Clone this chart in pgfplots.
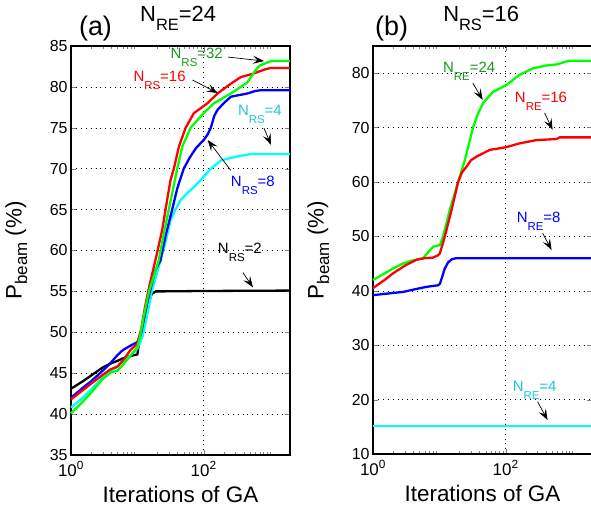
\documentclass[border=0pt]{standalone}
\usepackage{fontspec}
\setmainfont{Liberation Sans}
\usepackage{pgfplots}
\pgfplotsset{compat=1.18}
\usetikzlibrary{arrows.meta}

\definecolor{lgreen}{rgb}{0,1,0}
\definecolor{lcyan}{rgb}{0,1,1}
\definecolor{tgreen}{RGB}{25,150,25}
\definecolor{tcyan}{RGB}{30,200,210}

% subscript: size, drop, text
\newcommand{\sub}[3]{\raisebox{-#2}{\fontsize{#1}{#1}\selectfont #3}}

\tikzset{
  ann/.style={font=\fontsize{15}{17}\selectfont, anchor=base west, inner sep=0pt},
  arr/.style={black, line width=0.7bp, -{Stealth[length=11bp, width=8bp, inset=4.5bp]}},
  crv/.style={line width=2.3bp},
}

\begin{document}
\begin{tikzpicture}
\useasboundingbox (0,0) rectangle (591bp,515bp);

% (a) N_RE = 24
\begin{axis}[xmode=log, xmin=1, xmax=2000,
    scale only axis, width=219bp, height=409bp, clip=false,
    at={(71bp,60bp)}, anchor=south west,
    ymin=35, ymax=85, ytick={35,40,...,85},
    xtick={1,100}, xticklabels={10\textsuperscript{0},10\textsuperscript{2}},
    minor xtick={2,3,4,5,6,7,8,9,20,30,40,50,60,70,80,90,200,300,400,500,600,700,800,900,1000,2000},
    xmajorgrids, ymajorgrids,
    major grid style={black, line width=0.5bp, dash pattern=on 0.7bp off 4.2bp},
    axis line style={line width=1.1bp},
    major tick length=5bp, minor tick length=3bp,
    yticklabel style={font=\fontsize{16}{18}\selectfont},
    xticklabel style={font=\fontsize{17}{19}\selectfont, yshift=-3bp},
    xlabel={Iterations of GA},
    xlabel style={font=\fontsize{22.5}{25}\selectfont, at={(axis description cs:0.5,-0.117)}, anchor=base},
    ylabel={P\sub{17}{5.5bp}{beam} (\%)},
    ylabel style={font=\fontsize{22.5}{25}\selectfont, at={(axis description cs:-0.25,0.5)}, anchor=center},
    /pgf/number format/assume math mode=true]
\addplot[crv, black] coordinates {
(1,43.1) (1.5,44.0) (2,44.7) (3,45.7) (4,46.2) (5,46.5) (6,46.8) (8,47.1) (10,47.3)
(10.6,48.6) (12,50.5) (14,53) (16.5,54.7) (19,55) (22,55) (100,55.05) (2000,55.1)};
\addplot[crv, lcyan] coordinates {
(1,40.8) (1.5,42.0) (2,43.0) (3,44.5) (4,45.3) (5,45.8) (6,46.5) (8,47.2) (10,48)
(12,49.5) (14,52) (16.5,55) (21,58) (26.6,61) (31.6,63.7) (37.6,65) (45,66.2) (56.4,67)
(70,67.7) (90,68.6) (128,70) (181,71) (250,71.3) (323,71.5) (515,71.8) (2000,71.8)};
\addplot[crv, blue] coordinates {
(1,42) (1.5,43.2) (2,44.0) (3,45.3) (4,46.3) (5,47.2) (6,47.8) (8,48.4) (10,48.8)
(11.5,50) (13,52.5) (15.5,55) (18.5,57.5) (22.3,58.8) (27,62) (33.5,65) (40,67.6)
(50,70) (62,71.4) (78,72.6) (100,73.5) (115,74.2) (128,75) (145,76.5) (162,77.2)
(200,78) (257,78.8) (458,79.2) (600,79.5) (730,79.6) (2000,79.6)};
\addplot[crv, red] coordinates {
(1,41.8) (1.5,42.9) (2,43.7) (3,44.8) (4,45.5) (5,45.8) (6,46.5) (8,47.9) (10,48.6)
(11.5,50.5) (13,53) (15,55.5) (18.7,58.8) (23.7,62.5) (26.6,65) (31.6,68.6) (35.5,70)
(42.3,72.7) (53.4,75) (71.3,76.8) (114,78) (162,79.2) (257,80.4) (363,81.2) (550,81.6)
(810,82.1) (1000,82.3) (2000,82.3)};
\addplot[crv, lgreen] coordinates {
(1,40.1) (1.5,41.5) (2,42.6) (3,44.3) (4,45.1) (5,45.3) (6,46.0) (8,47.2) (10,48.2)
(11,49.5) (12.5,52) (15,55) (21,58.8) (25,62) (29.8,65) (39.9,70) (47.5,72.7) (63.5,75)
(100,76.8) (143,78) (257,79.2) (363,80) (450,80.5) (515,81.2) (600,82) (700,82.6)
(920,83.0) (1100,83.2) (2000,83.2)};

\node[ann, tgreen] at (axis cs:31.6,83.5) {N\sub{11.5}{8bp}{RS}=32};
\draw[arr] (axis cs:231,83.65) -- (axis cs:811,83.16);
\node[ann, red] at (axis cs:8.7,80.6) {N\sub{11.5}{8bp}{RS}=16};
\draw[arr] (axis cs:68,80.84) -- (axis cs:163,79.25);
\node[ann, tcyan] at (axis cs:327,76.55) {N\sub{11.5}{8bp}{RS}=4};
\draw[arr] (axis cs:811,74.96) -- (axis cs:1035,72.9);
\node[ann, blue] at (axis cs:256,67.8) {N\sub{11.5}{8bp}{RS}=8};
\draw[arr] (axis cs:256,69.8) -- (axis cs:115,73.5);
\node[ann, black] at (axis cs:163,59.6) {N\sub{11.5}{8bp}{RS}=2};
\draw[arr] (axis cs:390,57.3) -- (axis cs:552,55.5);

\node[font=\fontsize{27}{30}\selectfont, anchor=base west, inner sep=0pt]
  at (axis description cs:0.036,1.026) {(a)};
\node[font=\fontsize{22}{25}\selectfont, anchor=base west, inner sep=0pt]
  at (axis description cs:0.315,1.059) {N\sub{16.5}{9bp}{RE}=24};
\end{axis}

% (b) N_RS = 16
\begin{axis}[xmode=log, xmin=1, xmax=2000,
    scale only axis, width=219bp, height=408bp, clip=false,
    at={(373bp,61bp)}, anchor=south west,
    ymin=10, ymax=85, ytick={10,20,...,80},
    xtick={1,100}, xticklabels={10\textsuperscript{0},10\textsuperscript{2}},
    minor xtick={2,3,4,5,6,7,8,9,20,30,40,50,60,70,80,90,200,300,400,500,600,700,800,900,1000,2000},
    xmajorgrids, ymajorgrids,
    major grid style={black, line width=0.5bp, dash pattern=on 0.7bp off 4.2bp},
    axis line style={line width=1.1bp},
    major tick length=5bp, minor tick length=3bp,
    yticklabel style={font=\fontsize{16}{18}\selectfont},
    xticklabel style={font=\fontsize{17}{19}\selectfont, yshift=-3bp},
    xlabel={Iterations of GA},
    xlabel style={font=\fontsize{22.5}{25}\selectfont, at={(axis description cs:0.5,-0.117)}, anchor=base},
    ylabel={P\sub{17}{5.5bp}{beam} (\%)},
    ylabel style={font=\fontsize{22.5}{25}\selectfont, at={(axis description cs:-0.25,0.5)}, anchor=center},
    /pgf/number format/assume math mode=true]
\addplot[crv, lcyan] coordinates {(1,15.2) (2000,15.2)};
\addplot[crv, blue] coordinates {
(1,39.2) (2,39.6) (2.86,39.8) (4,40.2) (5.7,40.6) (7,40.8) (9.5,41.0) (10.2,41.3)
(11,42.5) (12,44) (13.5,45.2) (15.5,45.8) (18,46.0) (2000,46.0)};
\addplot[crv, lgreen] coordinates {
(1,42) (1.5,43.2) (2,44.1) (2.86,45.05) (4,45.6) (5.7,46.0) (7,47.3) (8.07,48.1)
(10.2,48.4) (11.4,50) (14.4,54.9) (19.2,60) (24.2,64) (32.2,70) (38,72.5) (45.6,74.5)
(64.5,76.6) (102,77.8) (130,78.8) (162,79.7) (258,80.9) (400,81.4) (580,81.6)
(750,82) (920,82.3) (2000,82.3)};
\addplot[crv, red] coordinates {
(1,40.5) (1.5,42) (2,43.2) (3,44.6) (4.5,45.7) (6,46.0) (8,46.1) (9.5,46.5)
(10.2,46.9) (12.1,50) (15.3,54.9) (19.2,60) (22,61.8) (25.6,62.8) (30,64)
(36.2,64.65) (57.5,65.9) (102,66.4) (162,67.1) (289,67.7) (580,67.9) (650,68.2) (2000,68.2)};

\node[ann, tgreen] at (axis cs:11.3,80.2) {N\sub{11.5}{8bp}{RE}=24};
\draw[arr] (axis cs:31.9,78.2) -- (axis cs:45,75.1);
\node[ann, red] at (axis cs:137,74.7) {N\sub{11.5}{8bp}{RE}=16};
\draw[arr] (axis cs:386,72.7) -- (axis cs:509,69.6);
\node[ann, blue] at (axis cs:146,52.6) {N\sub{11.5}{8bp}{RE}=8};
\draw[arr] (axis cs:360,50.6) -- (axis cs:492,47.5);
\node[ann, tcyan] at (axis cs:127,21.4) {N\sub{11.5}{8bp}{RE}=4};
\draw[arr] (axis cs:303,19.6) -- (axis cs:428,16.25);

\node[font=\fontsize{27}{30}\selectfont, anchor=base west, inner sep=0pt]
  at (axis description cs:0.009,1.026) {(b)};
\node[font=\fontsize{22}{25}\selectfont, anchor=base west, inner sep=0pt]
  at (axis description cs:0.32,1.059) {N\sub{16.5}{9bp}{RS}=16};
\end{axis}
\end{tikzpicture}
\end{document}
